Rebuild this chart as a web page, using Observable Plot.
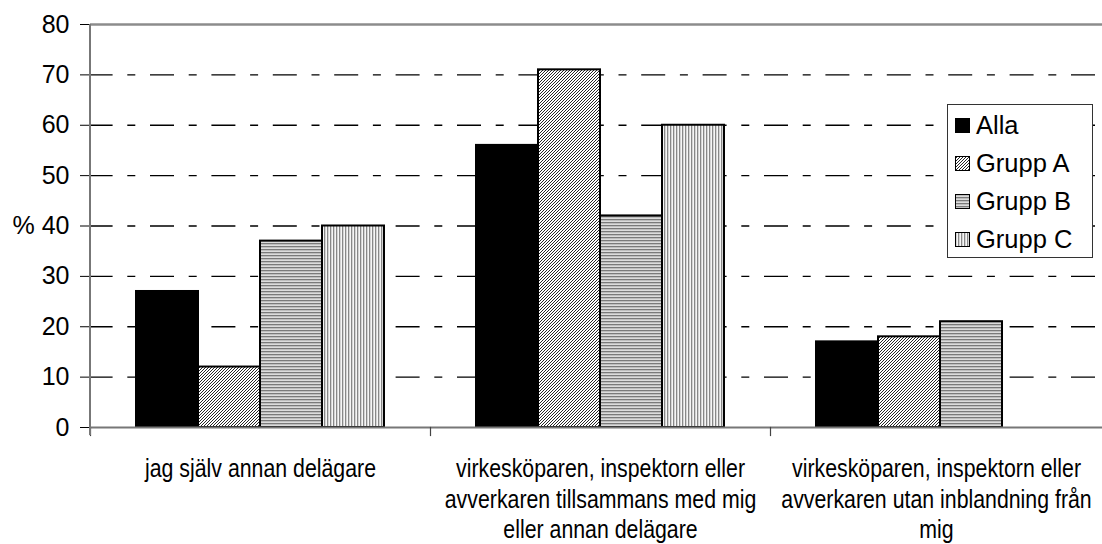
<!DOCTYPE html>
<html><head><meta charset="utf-8">
<script src="https://cdn.jsdelivr.net/npm/d3@7"></script>
<script src="https://cdn.jsdelivr.net/npm/@observablehq/plot@0.6"></script>
<style>
body{margin:0;background:#fff;}
#wrap{position:relative;width:1102px;height:544px;overflow:hidden;background:#fff}
#legend{position:absolute;left:947px;top:104px;width:146px;height:154px;border:1px solid #333;background:#fff;box-sizing:border-box;font-family:"Liberation Sans",Arial,sans-serif;font-size:25.5px;color:#000}
.row{position:absolute;left:7px;height:30px;display:flex;align-items:center;white-space:nowrap}
.row svg{margin-right:6px;flex:none}
</style></head><body>
<svg width="0" height="0" style="position:absolute">
<defs>
 <pattern id="pAlla" width="4" height="4" patternUnits="userSpaceOnUse"><rect width="4" height="4" fill="#000"/></pattern>
 <pattern id="pA" width="3" height="3" patternUnits="userSpaceOnUse"><rect width="3" height="3" fill="#fff"/><path d="M-1,1 L1,-1 M0,3 L3,0 M2,4 L4,2" stroke="#1a1a1a" stroke-width="0.95"/></pattern>
 <pattern id="pB" width="3" height="3" patternUnits="userSpaceOnUse"><rect width="3" height="3" fill="#dcdcdc"/><rect width="3" height="1.3" fill="#7a7a7a"/></pattern>
 <pattern id="pC" width="3" height="3" patternUnits="userSpaceOnUse"><rect width="3" height="3" fill="#f6f6f6"/><rect width="1.3" height="3" fill="#888"/></pattern>
</defs></svg>
<div id="wrap"><div id="legend"></div></div>
<script>
const categories = [
  "jag själv annan delägare",
  "virkesköparen, inspektorn eller avverkaren tillsammans med mig eller annan delägare",
  "virkesköparen, inspektorn eller avverkaren utan inblandning från mig"
];
const tickLabels = [
  "jag själv annan delägare",
  "virkesköparen, inspektorn eller\navverkaren tillsammans med mig\neller annan delägare",
  "virkesköparen, inspektorn eller\navverkaren utan inblandning från\nmig"
];
const series = ["Alla", "Grupp A", "Grupp B", "Grupp C"];
const alla   = [27, 56, 17];
const gruppA = [12, 71, 18];
const gruppB = [37, 42, 21];
const gruppC = [40, 60, null];
const yTicks = [0, 10, 20, 30, 40, 50, 60, 70, 80];
const gridValues = [10, 20, 30, 40, 50, 60, 70];

const fills = ["url(#pAlla)", "url(#pA)", "url(#pB)", "url(#pC)"];
const valuesBySeries = [alla, gruppA, gruppB, gruppC];
const data = [];
categories.forEach((c, ci) => series.forEach((s, si) => {
  const v = valuesBySeries[si][ci];
  if (v != null) data.push({cat: c, series: s, value: v});
}));

const W = 1102, H = 544, ML = 90, MR = -8, MT = 24, MB = 117;
const facetW = (W - ML - MR) / categories.length;
const period = 61.4, dashStart = 88.6;
const gridMarks = categories.map((c, i) => {
  const start = ML + i * facetW;
  const off = ((start - dashStart) % period + period) % period;
  return Plot.ruleY(gridValues.map(v => ({cat: c, v})), {
    fx: "cat", y: "v", stroke: "#000", strokeWidth: 1.3,
    strokeDasharray: "24,14.7,8,14.7", strokeDashoffset: off
  });
});

const chart = Plot.plot({
  width: W, height: H,
  marginLeft: ML, marginRight: MR, marginTop: MT, marginBottom: MB,
  style: {fontFamily: "'Liberation Sans',Arial,sans-serif", fontSize: "25px", color: "#000", background: "#fff", overflow: "visible"},
  fx: {domain: categories, padding: 0, label: null},
  x: {domain: series, paddingInner: 0, paddingOuter: 0.74, axis: null},
  y: {domain: [0, 80], label: null},
  color: {domain: series, range: fills},
  marks: [
    ...gridMarks,
    Plot.ruleY([80], {stroke: "#8c8c8c", strokeWidth: 2.5}),
    Plot.barY(data, {fx: "cat", x: "series", y: "value", fill: "series", stroke: "#000", strokeWidth: 2}),
    Plot.ruleY([0], {stroke: "#777", strokeWidth: 2}),
    Plot.frame({anchor: "left", stroke: "#444", strokeWidth: 1.2, insetTop: H - MT - MB, insetBottom: -8}),
    Plot.axisY(yTicks, {tickSize: 10, tickPadding: 11, stroke: "#000", fontSize: 25,
      tickFormat: d => d === 40 ? "% 40" : String(d)}),
    Plot.axisFx({anchor: "bottom", tickSize: 0, tickPadding: 28, fontSize: 26,
      fontFamily: "'Liberation Sans',Arial,sans-serif", lineHeight: 1.17,
      tickFormat: d => tickLabels[categories.indexOf(d)]})
  ]
});

const wrap = document.getElementById("wrap");
wrap.insertBefore(chart, wrap.firstChild);

// condense the category labels horizontally (Arial Narrow look); keep the last one inside the picture
d3.select(chart).selectAll('g[aria-label="fx-axis tick label"] text').each(function (d, i, nodes) {
  const t = this.getAttribute("transform") || "";
  const shift = i === nodes.length - 1 ? " translate(-4,0)" : "";
  this.setAttribute("transform", t + shift + " scale(0.82,1)");
});

// y axis line
const ys = chart.scale("y");
d3.select(chart).append("line")
  .attr("x1", ML).attr("x2", ML)
  .attr("y1", ys.apply(80)).attr("y2", ys.apply(0) + 8)
  .attr("stroke", "#777").attr("stroke-width", 2);

// legend
const legend = document.getElementById("legend");
series.forEach((s, i) => {
  const row = document.createElement("div");
  row.className = "row";
  row.style.top = (5 + i * 38) + "px";
  row.innerHTML = `<svg width="15" height="15"><rect x="0.5" y="0.5" width="14" height="14" fill="${fills[i]}" stroke="#000"/></svg><span>${s}</span>`;
  legend.appendChild(row);
});
</script>
</body></html>
